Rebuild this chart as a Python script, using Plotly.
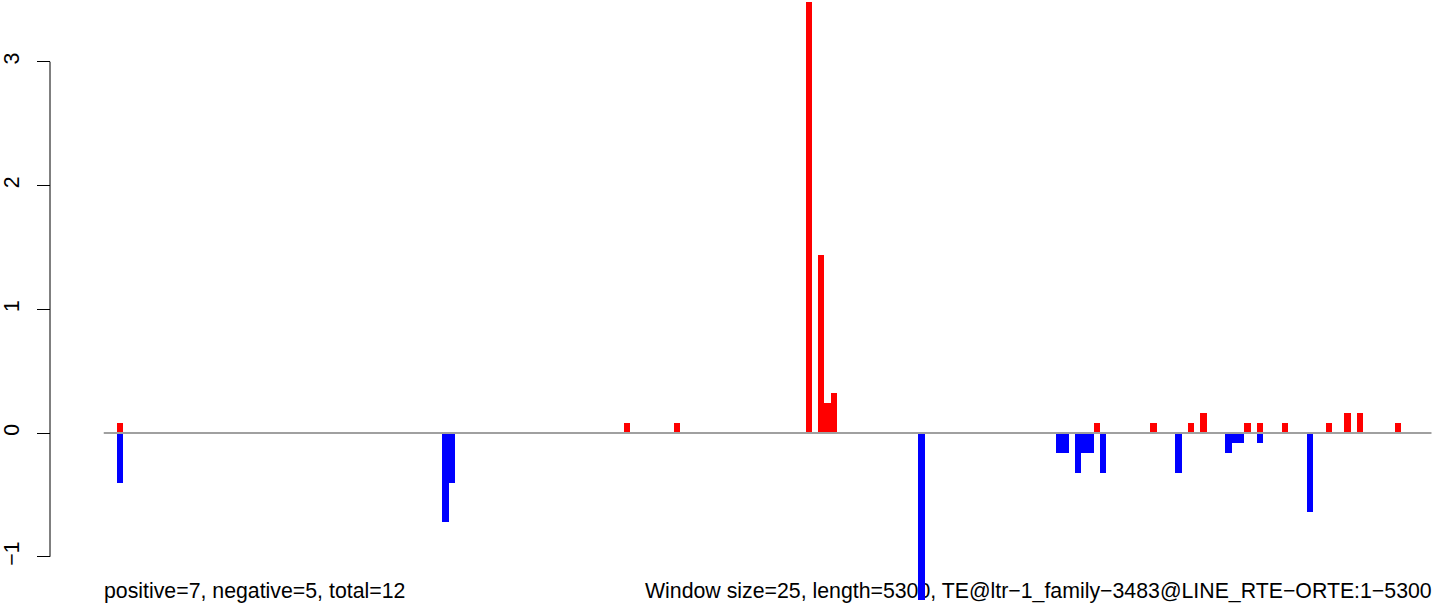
import plotly.graph_objects as go

# ---- data (window index 0..211, window size 25, length 5300) ----
n_windows = 212
pos_windows = [2, 83, 91, 112, 114, 115, 116, 158, 167, 173, 175, 182, 184, 188, 195, 198, 200, 206]
pos_values = [0.08, 0.08, 0.08, 3.48, 1.44, 0.24, 0.32, 0.08, 0.08, 0.08, 0.16, 0.08, 0.08, 0.08, 0.08, 0.16, 0.16, 0.08]
neg_windows = [2, 54, 55, 130, 152, 153, 155, 156, 157, 159, 171, 179, 180, 181, 184, 192]
neg_values = [-0.40, -0.72, -0.40, -1.36, -0.16, -0.16, -0.32, -0.16, -0.16, -0.32, -0.32, -0.16, -0.08, -0.08, -0.08, -0.64]
tick_vals = [-1, 0, 1, 2, 3]
tick_text = ["\u22121", "0", "1", "2", "3"]
left_label = "positive=7, negative=5, total=12"
right_label = "Window size=25, length=5300, TE@ltr\u22121_family\u22123483@LINE_RTE\u2212ORTE:1\u22125300"

W, H = 1444, 608
FONT = "Liberation Sans, Arial, Helvetica, sans-serif"
FS = 21.3
X0, X1 = 103.5, 1431.7   # plot region in pixels
PLOT_BOTTOM = 600        # plot region bottom pixel
ZERO_PX, UNIT_PX = 433.0, 123.75

y_top = ZERO_PX / UNIT_PX
y_bot = -(PLOT_BOTTOM - ZERO_PX) / UNIT_PX

fig = go.Figure()

# text layer (base axes, drawn beneath the bars)
fig.add_trace(go.Scatter(x=[X0 + 0.5], y=[593], text=[left_label], mode="text",
                         textposition="middle right", cliponaxis=False,
                         textfont=dict(size=FS, color="black", family=FONT),
                         xaxis="x", yaxis="y", showlegend=False, hoverinfo="skip"))
fig.add_trace(go.Scatter(x=[X1], y=[593], text=[right_label], mode="text",
                         textposition="middle left", cliponaxis=False,
                         textfont=dict(size=FS, color="black", family=FONT),
                         xaxis="x", yaxis="y", showlegend=False, hoverinfo="skip"))

# bars (overlay axes)
fig.add_trace(go.Bar(x=pos_windows, y=pos_values, width=1,
                     marker=dict(color="#FF0000", line=dict(width=0)),
                     xaxis="x2", yaxis="y2", showlegend=False))
fig.add_trace(go.Bar(x=neg_windows, y=neg_values, width=1,
                     marker=dict(color="#0000FF", line=dict(width=0)),
                     xaxis="x2", yaxis="y2", showlegend=False))

fig.update_layout(
    width=W, height=H,
    margin=dict(l=0, r=0, t=0, b=0),
    paper_bgcolor="white", plot_bgcolor="white",
    barmode="overlay", bargap=0,
    font=dict(family=FONT, color="black"),
    xaxis=dict(domain=[X0 / W, X1 / W], range=[X0, X1], visible=False, fixedrange=True),
    yaxis=dict(domain=[(H - PLOT_BOTTOM) / H, 1], range=[PLOT_BOTTOM, 0], visible=False, fixedrange=True),
    xaxis2=dict(overlaying="x", anchor="y2", range=[-0.5, n_windows - 0.5], visible=False),
    yaxis2=dict(overlaying="y", anchor="free", position=50 / W,
                range=[y_bot, y_top], tickvals=tick_vals, ticktext=tick_text,
                tickangle=-90, ticks="outside", ticklen=13, tickwidth=1, tickcolor="black",
                ticklabelstandoff=9,
                showgrid=False, zeroline=False, showline=False,
                tickfont=dict(size=FS, color="black", family=FONT)),
    shapes=[
        dict(type="line", xref="x2", yref="y2", x0=-0.5, x1=n_windows - 0.5, y0=0, y1=0,
             line=dict(color="#A0A0A0", width=2), layer="above"),
        dict(type="line", xref="paper", yref="y2", x0=50 / W, x1=50 / W, y0=-1, y1=3,
             line=dict(color="black", width=1)),
    ],
)

fig.write_html("out.html", config={"displayModeBar": False},
               post_script="document.body.style.margin='0';document.body.style.overflow='hidden';")
